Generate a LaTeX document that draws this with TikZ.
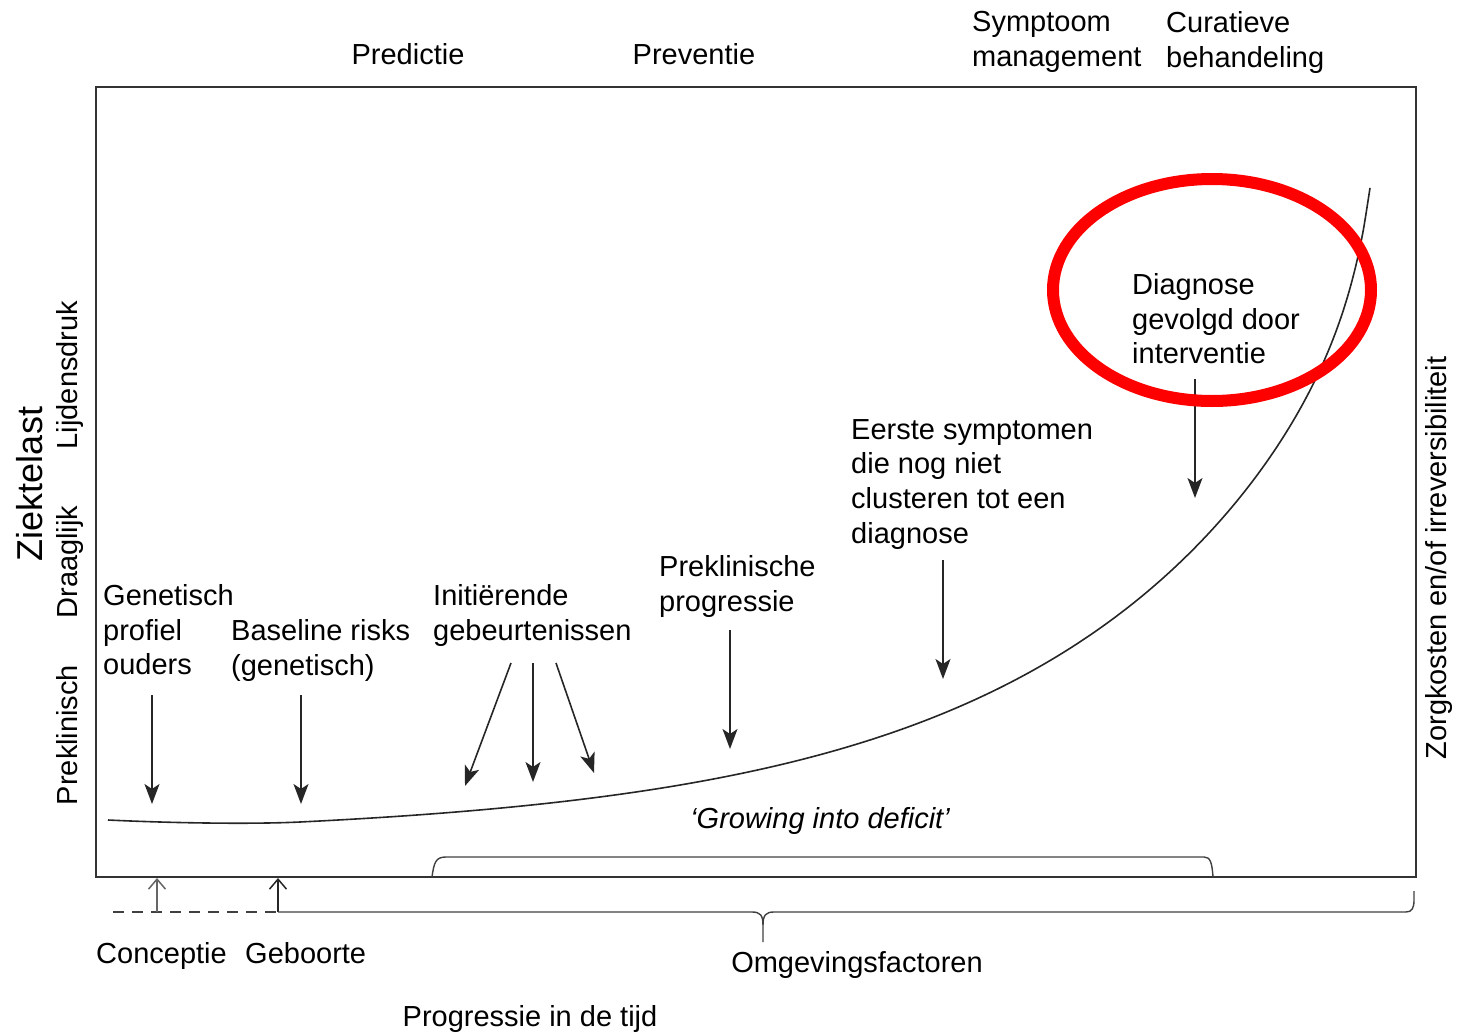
\documentclass[tikz,border=0pt]{standalone}
\usepackage{fontspec}
\setmainfont{Liberation Sans}
\usetikzlibrary{arrows.meta}
\begin{document}
\begin{tikzpicture}[x=1pt,y=-1pt,
  txt/.style={inner sep=0pt, font=\fontsize{29}{34.8}\selectfont},
  mlbl/.style={txt, align=left, anchor=north west},
  slbl/.style={txt, anchor=base},
  big/.style={inner sep=0pt, font=\fontsize{36}{40}\selectfont},
  frame/.style={draw=black!80, line width=1.8pt},
  curve/.style={draw=black!85, line width=1.6pt},
  pointer/.style={draw=black!85, line width=1.6pt, -{Stealth[length=20pt,width=15pt,inset=5pt]}},
  uparrow/.style={line width=1.5pt, -{Straight Barb[length=10pt,width=17pt]}},
  brace/.style={draw=black!75, line width=1.4pt},
  ring/.style={draw=red, line width=12pt}
]
\useasboundingbox (0,0) rectangle (1460,1033);

% frame
\draw[frame] (96,87) rectangle (1416,877);

% top labels
\node[slbl] (predictie) at (408,65) {Predictie};
\node[slbl] (preventie) at (694,65) {Preventie};
\node[mlbl] (symptoom) at (972,11) {Symptoom\\management};
\node[mlbl] (curatief) at (1166,11) {Curatieve\\behandeling};

% left axis labels
\node[big, rotate=90, anchor=base] (ziektelast) at (42,484) {Ziektelast};
\node[txt, rotate=90, anchor=base] (preklin) at (77,735) {Preklinisch};
\node[txt, rotate=90, anchor=base] (draaglijk) at (77,562) {Draaglijk};
\node[txt, rotate=90, anchor=base] (lijdens) at (77,375) {Lijdensdruk};

% right axis label
\node[txt, rotate=90, anchor=base] (zorg) at (1446,558) {Zorgkosten en/of irreversibiliteit};

% curve
\draw[curve] (108,820) .. controls (170,823) and (250,824.4) .. (300,822)
  -- plot[domain=300:1370, samples=160, smooth] (\x, {822 - 13.53*(exp((\x-300)/300) - 1) - 5203/(1400-\x) + 4.73});

% labels with arrows
\node[mlbl] (genetisch) at (103,584) {Genetisch\\profiel\\ouders};
\node[mlbl] (baseline) at (231,619) {Baseline risks\\(genetisch)};
\node[mlbl] (init) at (433,584) {Initiërende\\gebeurtenissen};
\node[mlbl] (prekprog) at (659,555) {Preklinische\\progressie};
\node[mlbl] (eerste) at (851,419) {Eerste symptomen\\die nog niet\\clusteren tot een\\diagnose};
\node[mlbl] (diagnose) at (1132,273) {Diagnose\\gevolgd door\\interventie};

\coordinate (s1) at (152,695); \coordinate (e1) at (152,804);
\coordinate (s2) at (301,695); \coordinate (e2) at (301,804);
\coordinate (s3) at (511,663); \coordinate (e3) at (465,786);
\coordinate (s4) at (533,663); \coordinate (e4) at (533,782);
\coordinate (s5) at (556,663); \coordinate (e5) at (594,773);
\coordinate (s6) at (730,630); \coordinate (e6) at (730,749);
\coordinate (s7) at (943,560); \coordinate (e7) at (943,679);
\coordinate (s8) at (1195,379); \coordinate (e8) at (1195,498);
\foreach \i in {1,...,8} { \draw[pointer] (s\i) -- (e\i); }

% growing into deficit
\node[txt, anchor=base, font=\fontsize{29}{34.8}\selectfont\itshape] (growing) at (820,828) {‘Growing into deficit’};

% inner brace
\draw[brace] (432,877) .. controls (434,862) and (436,857) .. (446,857) -- (1204,857) .. controls (1210,857) and (1212,862) .. (1213,877);

% bottom line and brace
\coordinate (conc) at (157,912);
\coordinate (concT) at (157,878);
\coordinate (geb) at (278,912);
\coordinate (gebT) at (278,878);
\draw[line width=1.4pt, black!75, dash pattern=on 11pt off 8pt] (113,912) -- (geb);
\draw[uparrow, draw=black!60] (conc) -- (concT);
\draw[uparrow, draw=black!85] (geb) -- (gebT);
\draw[brace] (geb) -- (752,912) .. controls (760,912) and (763,915) .. (763,925) -- (763,942);
\draw[brace] (763,925) .. controls (763,915) and (766,912) .. (774,912) -- (1406,912) .. controls (1412,912) and (1414,908) .. (1414,900) -- (1414,891);

% bottom labels
\node[txt, anchor=base west] (conceptie) at (96,963) {Conceptie};
\node[txt, anchor=base west] (geboorte) at (245,963) {Geboorte};
\node[slbl] (omgeving) at (857,972) {Omgevingsfactoren};
\node[slbl] (progressie) at (530,1026) {Progressie in de tijd};

% red ring
\draw[ring] (1212,290) ellipse [x radius=159pt, y radius=111pt];
\end{tikzpicture}
\end{document}
